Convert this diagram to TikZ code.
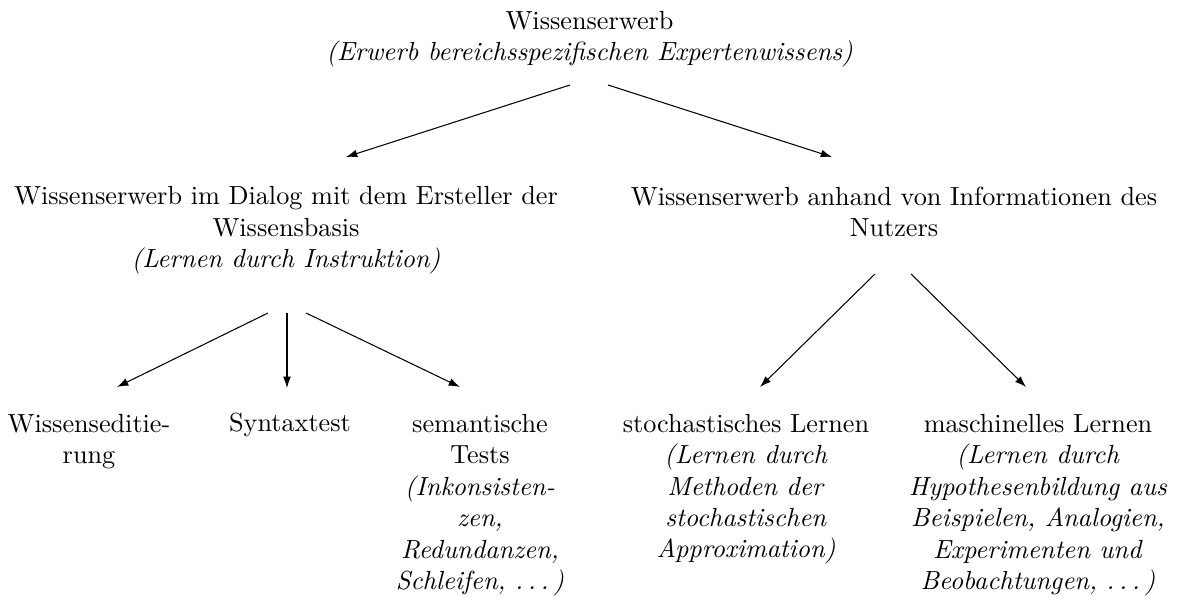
\documentclass[tikz,border=0pt]{standalone}
\usetikzlibrary{arrows.meta,calc}
\newcommand\mydots{.\kern\fontdimen3\font.\kern\fontdimen3\font.\kern\fontdimen3\font}
\begin{document}
\begin{tikzpicture}[x=0.3817pt,y=-0.3817pt,
  box/.style={anchor=base,align=center,inner sep=0pt},
  arr/.style={-{Latex[length=4.3pt,width=3pt]},line width=0.4pt}]
\useasboundingbox (0,0) rectangle (1178,601);
% base anchor = baseline of the last line
\node[box] (top) at (589.5,61) {Wissenserwerb\\\textit{(Erwerb bereichsspezifischen Expertenwissens)}};
\node[box] (dialog) at (286,267.5) {Wissenserwerb im Dialog mit dem Ersteller der\\Wissensbasis\\\textit{(Lernen durch Instruktion)}};
\node[box] (nutzer) at (894,236.5) {Wissenserwerb anhand von Informationen des\\Nutzers};
\node[box] (edit) at (89,463.5) {Wissenseditie-\\rung};
\node[box] (syntax) at (290,432) {Syntaxtest};
\node[box] (sem) at (480,589.5) {semantische\\Tests\\\textit{(Inkonsisten-}\\\textit{zen,}\\\textit{Redundanzen,}\\\textit{Schleifen, \mydots)}};
\node[box] (stoch) at (746,558) {stochastisches Lernen\\\textit{(Lernen durch}\\\textit{Methoden der}\\\textit{stochastischen}\\\textit{Approximation)}};
\node[box] (masch) at (1038,589.5) {maschinelles Lernen\\\textit{(Lernen durch}\\\textit{Hypothesenbildung aus}\\\textit{Beispielen, Analogien,}\\\textit{Experimenten und}\\\textit{Beobachtungen, \mydots)}};
\draw[arr] ($(top.base)+(-19.5,24)$) -- ($(dialog.base)+(60,-110.5)$);
\draw[arr] ($(top.base)+(18.5,24)$) -- ($(nutzer.base)+(-62,-79.5)$);
\draw[arr] ($(dialog.base)+(-18,45.5)$) -- ($(edit.base)+(28,-76.5)$);
\draw[arr] ($(dialog.base)+(1,45.5)$) -- ($(syntax.base)+(-3,-44)$);
\draw[arr] ($(dialog.base)+(20,45.5)$) -- ($(sem.base)+(-20,-202.5)$);
\draw[arr] ($(nutzer.base)+(-19,37.5)$) -- ($(stoch.base)+(14,-171)$);
\draw[arr] ($(nutzer.base)+(17,37.5)$) -- ($(masch.base)+(-12,-202.5)$);
\end{tikzpicture}
\end{document}
